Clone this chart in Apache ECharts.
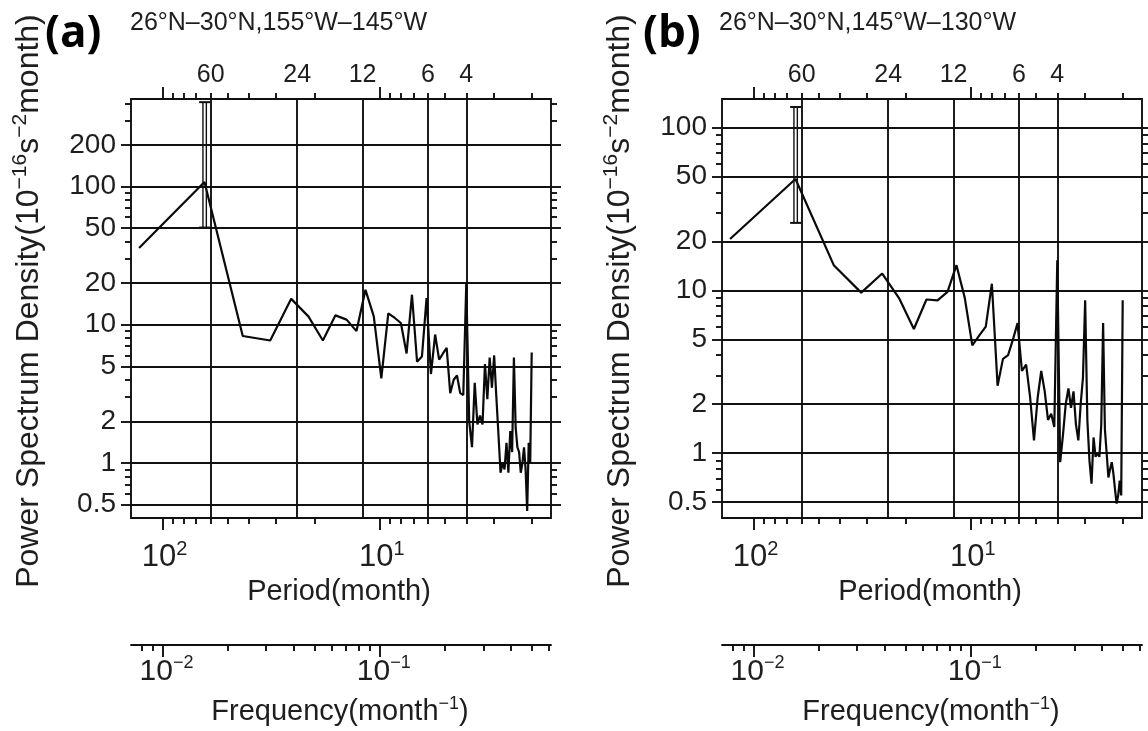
<!DOCTYPE html>
<html>
<head>
<meta charset="utf-8">
<script src="https://cdn.jsdelivr.net/npm/echarts@6/dist/echarts.min.js"></script>
<style>
html,body{margin:0;padding:0;background:#fff;}
#chart{width:1148px;height:731px;}
</style>
</head>
<body>
<div id="chart"></div>
<script>
// ---------------- data ----------------
// Fourier frequencies (month^-1) of a 128-month record
const freq = [0.0078,0.0156,0.0234,0.0313,0.0391,0.0469,0.0547,0.0625,0.0703,0.0781,
  0.0859,0.0938,0.1016,0.1094,0.1172,0.125,0.1328,0.1406,0.1484,0.1563,
  0.1641,0.1719,0.1797,0.1875,0.1953,0.2031,0.2109,0.2188,0.2266,0.2344,
  0.2422,0.25,0.2578,0.2656,0.2734,0.2813,0.2891,0.2969,0.3047,0.3125,
  0.3203,0.3281,0.3359,0.3438,0.3516,0.3594,0.3672,0.375,0.3828,0.3906,
  0.3984,0.4063,0.4141,0.4219,0.4297,0.4375,0.4453,0.4531,0.4609,0.4688,
  0.4766,0.4844,0.4922,0.5];
// Power spectrum density (10^-16 s^-2 month), panel (a)
const psdA = [35.9,108,8.3,7.7,15.4,11.5,7.7,11.7,10.9,9.0,
  17.9,11.5,4.1,12.1,11.2,10.3,6.2,16.5,5.4,5.9,
  15.6,4.4,8.5,5.6,6.2,6.8,3.2,4.0,4.3,3.2,
  3.1,20,2.0,1.3,3.8,1.9,2.2,1.9,5.2,2.9,
  5.8,3.5,6.0,3.0,1.6,0.85,1.0,0.9,1.4,0.85,
  1.7,1.2,5.8,1.8,1.3,1.2,0.85,1.0,1.3,0.9,
  0.45,1.4,1.0,6.3];
// panel (b)
const psdB = [20.7,48.4,14.3,9.7,12.7,8.9,5.8,8.8,8.7,9.8,
  14.3,9.0,4.6,5.3,6.0,11.0,2.6,3.8,4.0,5.0,
  6.3,3.2,3.5,2.2,1.2,2.2,3.2,2.4,1.6,1.75,
  1.45,15.3,0.88,1.3,2.0,2.5,1.9,2.4,1.5,1.2,
  2.0,2.9,8.7,1.6,0.9,0.65,1.25,0.95,1.0,0.95,
  1.5,6.3,1.4,1.0,0.71,0.8,0.88,0.75,0.6,0.49,
  0.55,0.68,0.55,8.7];
// confidence bar: [frequency, lower, upper]
const errA = [0.015625, 50.5, 408];
const errB = [0.015625, 26, 134];

const panelTags = ['(a)', '(b)'];
const panelTitles = ['26°N–30°N,155°W–145°W', '26°N–30°N,145°W–130°W'];

// tick values
const periodMajor = [100, 10];
const periodMinor = [90,80,70,60,50,40,30,20,9,8,7,6,5,4,3,2];
const periodGrid = [60, 24, 12, 6, 4];
const freqMajor = [0.01, 0.1];
const freqMinor = [0.007,0.008,0.009,0.02,0.03,0.04,0.05,0.06,0.07,0.08,0.09,0.2,0.3,0.4,0.5,0.6];
const freqRange = [0.00716, 0.6135];
const psdGridA = [0.5,1,2,5,10,20,50,100,200];
const psdGridB = [0.5,1,2,5,10,20,50,100];
const psdMinorA = [0.6,0.7,0.8,0.9,3,4,6,7,8,9,30,40,60,70,80,90,300,400];
const psdMinorB = [0.6,0.7,0.8,0.9,3,4,6,7,8,9,30,40,60,70,80,90];
const psdRangeA = [0.4, 430];
const psdRangeB = [0.4, 150];

// ---------------- layout / style ----------------
const FONT = 'Liberation Sans, Arial, Helvetica, sans-serif';
const INK = '#111';
const TXT = '#1e1e1e';
const LW = 1.9;
const BOX = { top: 99, width: 420, height: 419 };
const LEFTS = [131, 722];
const TAG_X = [45, 643];
const TITLE_X = [130, 719];
const FREQ_Y = 645;

const powRich = {
  b: { fontSize: 31, fontFamily: FONT, color: TXT, lineHeight: 36 },
  sup: { fontSize: 20, fontFamily: FONT, color: TXT, lineHeight: 20, verticalAlign: 'top' }
};
const freqRich = {
  b: { fontSize: 30, fontFamily: FONT, color: TXT, lineHeight: 36 },
  sup: { fontSize: 18, fontFamily: FONT, color: TXT, lineHeight: 19, verticalAlign: 'top' }
};
const titleRich = {
  b: { fontSize: 29, fontFamily: FONT, color: TXT, lineHeight: 34 },
  sup: { fontSize: 18, fontFamily: FONT, color: TXT, lineHeight: 18, verticalAlign: 'top' }
};
const yTitleRich = {
  b: { fontSize: 32, fontFamily: FONT, color: TXT, lineHeight: 38 },
  sup: { fontSize: 21, fontFamily: FONT, color: TXT, lineHeight: 21, verticalAlign: 'top' }
};
const inv = a => a.map(p => 1 / p);

const grids = [], xAxes = [], yAxes = [], series = [], graphics = [];

function xAx(gi, pos, extra) {
  return Object.assign({
    type: 'log', logBase: 10, gridIndex: gi, position: pos,
    min: freqRange[0], max: freqRange[1],
    axisLine: { show: false },
    axisTick: { show: false },
    axisLabel: { show: false },
    splitLine: { show: false },
    minorTick: { show: false },
    minorSplitLine: { show: false }
  }, extra);
}
function yAx(gi, pos, range, extra) {
  return Object.assign({
    type: 'log', logBase: 10, gridIndex: gi, position: pos,
    min: range[0], max: range[1],
    axisLine: { show: false },
    axisTick: { show: false },
    axisLabel: { show: false },
    splitLine: { show: false },
    minorTick: { show: false },
    minorSplitLine: { show: false }
  }, extra);
}
function hiddenY(gi) {
  return { type: 'value', gridIndex: gi, min: 0, max: 1, show: false };
}
function tick(values, len, inside) {
  return { show: true, customValues: values, length: len, inside: !!inside,
           lineStyle: { color: INK, width: LW } };
}

function buildPanel(p) {
  const left = LEFTS[p];
  const psd = p === 0 ? psdA : psdB;
  const err = p === 0 ? errA : errB;
  const yRange = p === 0 ? psdRangeA : psdRangeB;
  const yGrid = p === 0 ? psdGridA : psdGridB;
  const yMinor = p === 0 ? psdMinorA : psdMinorB;
  const g0 = grids.length;
  const boxRect = { left: left, top: BOX.top, width: BOX.width, height: BOX.height,
                    containLabel: false, outerBoundsMode: 'none' };

  // grid A: main plot box with data, major ticks and labels
  grids.push(Object.assign({ show: true, borderColor: INK, borderWidth: LW, backgroundColor: 'transparent' }, boxRect));
  // grid B: grid lines, top/right minor ticks
  grids.push(Object.assign({ show: false }, boxRect));
  // grid C: bottom/left minor ticks
  grids.push(Object.assign({ show: false }, boxRect));
  // grid D, E: frequency axis
  const fRect = { left: left, top: FREQ_Y - 1, width: BOX.width, height: 1, containLabel: false, outerBoundsMode: 'none' };
  grids.push(Object.assign({ show: false }, fRect));
  grids.push(Object.assign({ show: false }, fRect));

  const xa0 = xAxes.length, ya0 = yAxes.length;

  // grid A axes
  xAxes.push(xAx(g0, 'bottom', {
    axisTick: tick(inv(periodMajor), 12),
    axisLabel: { show: true, customValues: inv(periodMajor), margin: 21, padding: [0, 0, 0, 4],
      formatter: v => (v < 0.05 ? '{b|10}{sup|2}' : '{b|10}{sup|1}'), rich: powRich }
  }));
  xAxes.push(xAx(g0, 'top', {
    axisTick: tick(inv(periodMajor), 12),
    axisLabel: { show: true, customValues: inv(periodGrid), margin: 11,
      fontSize: 25, fontFamily: FONT, color: TXT,
      formatter: v => String(Math.round(1 / v)) }
  }));
  yAxes.push(yAx(g0, 'left', yRange, {
    axisTick: tick(yGrid, 10),
    axisLabel: { show: true, customValues: yGrid, margin: 15,
      fontSize: 28, fontFamily: FONT, color: TXT,
      formatter: v => String(v) }
  }));
  yAxes.push(yAx(g0, 'right', yRange, { axisTick: tick(yGrid, 10) }));

  // grid B axes: grid lines as full-length inner ticks
  xAxes.push(xAx(g0 + 1, 'bottom', { axisTick: tick(inv(periodGrid), BOX.height, true) }));
  xAxes.push(xAx(g0 + 1, 'top', { axisTick: tick(inv(periodMinor), 6) }));
  yAxes.push(yAx(g0 + 1, 'left', yRange, { axisTick: tick(yGrid, BOX.width, true) }));
  yAxes.push(yAx(g0 + 1, 'right', yRange, { axisTick: tick(yMinor, 6) }));

  // grid C axes
  xAxes.push(xAx(g0 + 2, 'bottom', { axisTick: tick(inv(periodMinor), 6) }));
  yAxes.push(yAx(g0 + 2, 'left', yRange, { axisTick: tick(yMinor, 6) }));

  // grid D: frequency axis line, major ticks, labels
  xAxes.push(xAx(g0 + 3, 'bottom', {
    axisLine: { show: true, lineStyle: { color: INK, width: LW } },
    axisTick: tick(freqMajor, 12),
    axisLabel: { show: true, customValues: freqMajor, margin: 9, padding: [0, 0, 0, 8],
      formatter: v => (v < 0.05 ? '{b|10}{sup|−2}' : '{b|10}{sup|−1}'), rich: freqRich }
  }));
  yAxes.push(hiddenY(g0 + 3));
  // grid E: frequency minor ticks
  xAxes.push(xAx(g0 + 4, 'bottom', { axisTick: tick(freqMinor, 6) }));
  yAxes.push(hiddenY(g0 + 4));

  // data line
  series.push({
    type: 'line', xAxisIndex: xa0, yAxisIndex: ya0,
    data: freq.map((f, i) => [f, psd[i]]),
    showSymbol: false, symbol: 'none', smooth: false,
    lineStyle: { color: '#0a0a0a', width: 2.2 }, z: 5, animation: false
  });
  // confidence bar
  series.push({
    type: 'custom', xAxisIndex: xa0, yAxisIndex: ya0,
    data: [err], encode: { x: 0, y: [1, 2] }, z: 6, animation: false,
    renderItem: (params, api) => {
      const lo = api.coord([api.value(0), api.value(1)]);
      const hi = api.coord([api.value(0), api.value(2)]);
      const st = { stroke: INK, lineWidth: 1.4, fill: 'none' };
      return { type: 'group', children: [
        { type: 'line', shape: { x1: lo[0] - 1.7, y1: lo[1], x2: hi[0] - 1.7, y2: hi[1] }, style: st },
        { type: 'line', shape: { x1: lo[0] + 1.7, y1: lo[1], x2: hi[0] + 1.7, y2: hi[1] }, style: st },
        { type: 'line', shape: { x1: hi[0] - 5.5, y1: hi[1], x2: hi[0] + 5.5, y2: hi[1] }, style: { stroke: INK, lineWidth: 2 } },
        { type: 'line', shape: { x1: lo[0] - 5.5, y1: lo[1], x2: lo[0] + 5.5, y2: lo[1] }, style: { stroke: INK, lineWidth: 2 } }
      ]};
    }
  });

  // texts
  const cx = left + BOX.width / 2;
  graphics.push({ type: 'text', x: TAG_X[p], y: 34,
    style: { text: panelTags[p], font: 'bold 44px "Open Sans", "DejaVu Sans", sans-serif', fill: '#000',
             align: 'left', verticalAlign: 'middle', textAlign: 'left', textVerticalAlign: 'middle' } });
  graphics.push({ type: 'text', x: TITLE_X[p], y: 23,
    style: { text: panelTitles[p], fontSize: 25, fontFamily: FONT, fill: TXT,
             align: 'left', verticalAlign: 'middle', textAlign: 'left', textVerticalAlign: 'middle' } });
  graphics.push({ type: 'text', x: cx - 2, y: 592,
    style: { text: 'Period(month)', fontSize: 29, fontFamily: FONT, fill: TXT,
             align: 'center', verticalAlign: 'middle', textAlign: 'center', textVerticalAlign: 'middle' } });
  graphics.push({ type: 'text', x: cx - 1, y: 712,
    style: { text: '{b|Frequency(month}{sup|−1}{b|)}', rich: titleRich, fill: TXT,
             align: 'center', verticalAlign: 'middle', textAlign: 'center', textVerticalAlign: 'middle' } });
  graphics.push({ type: 'text', x: left - 102, y: 301, rotation: Math.PI / 2,
    style: { text: '{b|Power Spectrum Density(10}{sup|−16}{b|s}{sup|−2}{b|month)}', rich: yTitleRich, fill: TXT,
             align: 'center', verticalAlign: 'middle', textAlign: 'center', textVerticalAlign: 'middle' } });
}

buildPanel(0);
buildPanel(1);

const chart = echarts.init(document.getElementById('chart'), null, { renderer: 'canvas' });
chart.setOption({
  backgroundColor: '#fff',
  animation: false,
  grid: grids,
  xAxis: xAxes,
  yAxis: yAxes,
  series: series,
  graphic: { elements: graphics }
});
</script>
</body>
</html>
